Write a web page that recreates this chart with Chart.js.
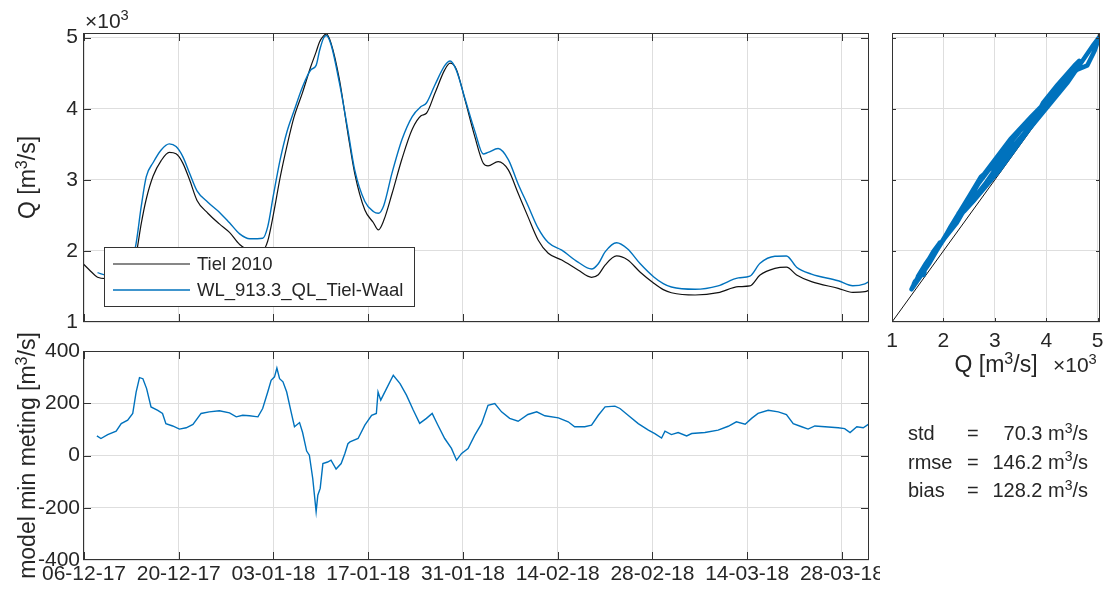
<!DOCTYPE html>
<html>
<head>
<meta charset="utf-8">
<script src="https://cdn.jsdelivr.net/npm/chart.js@4.4.1/dist/chart.umd.min.js"></script>
<style>
  html, body { margin: 0; padding: 0; background: #fff; }
  body { width: 1109px; height: 591px; position: relative; overflow: hidden; }
  canvas { position: absolute; }
</style>
</head>
<body>
<canvas id="qChart" width="880" height="335" style="left:0px;top:0px"></canvas>
<canvas id="diffChart" width="880" height="271" style="left:0px;top:320px"></canvas>
<canvas id="scatterChart" width="239" height="591" style="left:870px;top:0px"></canvas>
<script>
// tijdas: dagen sinds 06-12-2017
const xTickDays = [0, 14, 28, 42, 56, 70, 84, 98, 112];
const xTickLabels = ['06-12-17', '20-12-17', '03-01-18', '17-01-18', '31-01-18', '14-02-18', '28-02-18', '14-03-18', '28-03-18'];
const qTicks = [1000, 2000, 3000, 4000, 5000];
const diffTicks = [-400, -200, 0, 200, 400];
const seriesNames = ['Tiel 2010', 'WL_913.3_QL_Tiel-Waal'];

// afvoer meting en model [m3/s]
const qDays = [-0.2, 0.8, 2.0, 3.25, 4.75, 6.0, 7.0, 7.7, 8.45, 9.2,
  10.2, 11.4, 12.6, 13.6, 14.6, 15.6, 16.7, 18.3, 20.0, 21.5,
  23.0, 24.5, 26.4, 27.15, 28.0, 29.0, 30.0, 31.0, 32.3, 33.5,
  34.3, 34.8, 35.4, 35.8, 36.5, 37.75, 39.0, 40.0, 41.5, 42.75,
  43.5, 44.3, 45.5, 47.0, 48.5, 49.8, 50.6, 51.85, 53.3, 54.1,
  55.0, 56.3, 57.75, 59.0, 59.7, 61.2, 62.7, 64.15, 65.6, 67.1,
  68.6, 70.6, 73.0, 75.0, 76.0, 77.0, 78.7, 80.3, 82.2, 84.2,
  85.6, 86.8, 90.3, 93.7, 96.7, 98.4, 99.9, 102.1, 103.8, 105.3,
  107.5, 111.45, 113.6, 115.4, 116.1];
const qMeasured = [1826, 1732, 1630, 1610, 1615, 1640, 1730, 1950, 2380, 2730,
  3050, 3270, 3385, 3365, 3235, 3000, 2710, 2530, 2380, 2260,
  2090, 2013, 2013, 2140, 2520, 3040, 3480, 3870, 4230, 4590,
  4800, 4940, 5025, 5052, 4921, 4405, 3650, 3092, 2576, 2400,
  2295, 2430, 2800, 3300, 3710, 3900, 3936, 4217, 4546, 4640,
  4560, 4124, 3607, 3233, 3195, 3255, 3139, 2811, 2482, 2154,
  1967, 1872, 1732, 1629, 1665, 1800, 1929, 1875, 1700, 1545,
  1455, 1412, 1380, 1412, 1497, 1507, 1661, 1755, 1772, 1661,
  1567, 1474, 1418, 1426, 1450];
const qModel = [null, null, 1694, 1661, 1685, 1735, 1830, 2107, 2622, 3045,
  3240, 3420, 3505, 3467, 3326, 3092, 2845, 2685, 2545, 2395,
  2240, 2170, 2178, 2341, 2790, 3290, 3680, 3960, 4310, 4545,
  4610, 4815, 4995, 5030, 4903, 4359, 3695, 3139, 2695, 2555,
  2530, 2640, 3090, 3570, 3890, 4030, 4080, 4334, 4605, 4672,
  4545, 4140, 3685, 3364, 3385, 3440, 3285, 2942, 2639, 2320,
  2117, 2010, 1842, 1745, 1819, 1986, 2115, 2030, 1818, 1633,
  1540, 1492, 1460, 1509, 1620, 1645, 1826, 1925, 1929, 1771,
  1674, 1580, 1510, 1537, 1572];

// verschil model min meting [m3/s]
const diffDays = [1.9, 2.5, 3.5, 4.75, 5.5, 6.45, 7.2, 7.7, 8.2, 8.7,
  9.25, 9.9, 10.9, 11.6, 12.1, 13.1, 14.1, 15.1, 16.1, 17.3,
  18.5, 20.0, 21.5, 22.5, 23.45, 24.45, 25.7, 26.4, 27.15, 27.65,
  28.15, 28.5, 28.9, 29.4, 29.95, 30.6, 31.1, 31.85, 32.3, 32.9,
  33.3, 33.8, 34.3, 34.55, 34.9, 35.3, 36.0, 36.5, 37.25, 38.0,
  38.55, 39.0, 39.3, 40.5, 41.5, 42.5, 43.2, 43.45, 43.85, 44.7,
  45.7, 46.7, 47.65, 48.65, 49.6, 50.6, 51.45, 52.3, 53.3, 54.3,
  55.05, 55.8, 56.75, 57.75, 58.75, 59.7, 60.7, 61.7, 62.9, 64.15,
  65.6, 66.9, 68.1, 70.1, 71.55, 72.5, 74.0, 75.0, 76.0, 77.0,
  78.45, 79.2, 80.4, 81.9, 83.4, 84.35, 85.35, 85.85, 86.8, 87.8,
  89.05, 89.8, 91.75, 93.7, 95.2, 96.4, 97.7, 98.65, 99.6, 101.1,
  102.6, 103.8, 104.8, 106.05, 107.0, 108.0, 109.5, 111.45, 112.4, 113.2,
  114.2, 115.15, 115.9];
const diffValues = [75, 65, 80, 93, 122, 135, 161, 243, 298, 294,
  256, 186, 173, 161, 122, 113, 101, 106, 119, 161,
  167, 171, 163, 148, 154, 152, 148, 180, 243, 288,
  301, 335, 294, 282, 243, 167, 110, 126, 88, 17,
  1, -88, -215, -152, -126, -31, -25, -18, -52, -31,
  8, 45, 52, 65, 116, 154, 161, 243, 212, 256,
  307, 275, 231, 174, 123, 142, 161, 116, 65, 27,
  -18, 8, 27, 78, 122, 192, 199, 167, 142, 131,
  157, 167, 152, 144, 129, 110, 110, 116, 154, 186,
  189, 180, 154, 122, 97, 84, 67, 93, 80, 88,
  75, 84, 88, 97, 112, 129, 120, 142, 161, 173,
  167, 157, 122, 110, 101, 113, 110, 106, 103, 88,
  110, 106, 119];

const oneToOne = [1000, 5050];
const statNames = ['std', 'rmse', 'bias'];
const statValues = [70.3, 146.2, 128.2];

const FONT = '"Liberation Sans", Arial, Helvetica, sans-serif';
const INK = '#262626';
const BLUE = '#0072BD';
const GRID = '#dedede';
Chart.defaults.font.family = FONT;
Chart.defaults.color = INK;

// tekst met superscript-delen: [['Q [m'], ['3', true], ['/s]']]
function richWidth(ctx, parts, size) {
  let w = 0;
  parts.forEach(([t, sup]) => {
    ctx.font = (sup ? size * 0.7 : size) + 'px ' + FONT;
    w += ctx.measureText(t).width;
  });
  return w;
}
function drawRich(ctx, parts, x, y, size, align) {
  const w = richWidth(ctx, parts, size);
  let cx = align === 'center' ? x - w / 2 : align === 'right' ? x - w : x;
  ctx.textAlign = 'left';
  ctx.textBaseline = 'alphabetic';
  parts.forEach(([t, sup]) => {
    ctx.font = (sup ? size * 0.7 : size) + 'px ' + FONT;
    ctx.fillText(t, cx, sup ? y - size * 0.36 : y);
    cx += ctx.measureText(t).width;
  });
}
const m3s = (pre, post) => [[pre + 'm'], ['3', true], ['/s' + (post || '')]];

const freeText = {
  id: 'freeText',
  afterDraw(chart, args, opts) {
    const ctx = chart.ctx;
    (opts.items || []).forEach(it => {
      ctx.save();
      ctx.fillStyle = it.color || INK;
      ctx.translate(it.x, it.y);
      if (it.rotate) ctx.rotate(it.rotate);
      drawRich(ctx, it.parts, 0, 0, it.size, it.align || 'left');
      ctx.restore();
    });
  }
};

// datumlabels onder de tijdas, gecentreerd op de ticks van de x-schaal
const dateLabels = {
  id: 'dateLabels',
  afterDraw(chart, args, opts) {
    if (!opts.y) return;
    const s = chart.scales.x;
    const ctx = chart.ctx;
    ctx.save();
    ctx.font = '21px ' + FONT;
    ctx.fillStyle = INK;
    ctx.textAlign = 'center';
    ctx.textBaseline = 'middle';
    s.ticks.forEach((t, i) => ctx.fillText(xTickLabels[i], s.getPixelForValue(t.value), opts.y));
    ctx.restore();
  }
};

// kader rond de assen met tickstreepjes naar binnen
const axesBox = {
  id: 'axesBox',
  afterDatasetsDraw(chart, args, opts) {
    const {ctx, chartArea: a} = chart;
    const L = opts.tickLength || 8;
    ctx.save();
    ctx.strokeStyle = '#333';
    ctx.lineWidth = 1;
    ctx.beginPath();
    Object.values(chart.scales).forEach(s => {
      s.ticks.forEach(t => {
        const p = Math.round(s.getPixelForValue(t.value)) + 0.5;
        if (s.isHorizontal()) {
          if (p <= a.left + 1 || p >= a.right - 1) return;
          ctx.moveTo(p, a.bottom); ctx.lineTo(p, a.bottom - L);
          ctx.moveTo(p, a.top); ctx.lineTo(p, a.top + L);
        } else {
          if (p <= a.top + 1 || p >= a.bottom - 1) return;
          ctx.moveTo(a.left, p); ctx.lineTo(a.left + L, p);
          ctx.moveTo(a.right, p); ctx.lineTo(a.right - L, p);
        }
      });
    });
    ctx.stroke();
    ctx.strokeRect(a.left + 0.5, a.top + 0.5, a.right - a.left - 1, a.bottom - a.top - 1);
    ctx.restore();
  }
};

const boxLegend = {
  id: 'boxLegend',
  afterDatasetsDraw(chart, args, opts) {
    if (!opts.box) return;
    const ctx = chart.ctx;
    const b = opts.box;
    ctx.save();
    ctx.fillStyle = '#fff';
    ctx.fillRect(b.x, b.y, b.w, b.h);
    ctx.strokeStyle = '#333';
    ctx.lineWidth = 1;
    ctx.strokeRect(b.x + 0.5, b.y + 0.5, b.w, b.h);
    ctx.font = opts.size + 'px ' + FONT;
    ctx.textBaseline = 'middle';
    ctx.textAlign = 'left';
    chart.data.datasets.forEach((ds, i) => {
      const y = b.y + opts.rows[i];
      ctx.strokeStyle = ds.borderColor;
      ctx.lineWidth = ds.borderWidth;
      ctx.beginPath();
      ctx.moveTo(b.x + 9, y);
      ctx.lineTo(b.x + 86, y);
      ctx.stroke();
      ctx.fillStyle = INK;
      ctx.fillText(ds.label, b.x + 93, y + 1);
    });
    ctx.restore();
  }
};

function fixedWidth(w) {
  return s => { s.width = w; s.paddingTop = 0; s.paddingBottom = 0; };
}
function fixedHeight(h) {
  return s => { s.height = h; s.paddingLeft = 0; s.paddingRight = 0; };
}
const setTicks = values => s => { s.ticks = values.map(v => ({value: v})); };

function timeAxis(height) {
  return {
    type: 'linear',
    min: -0.15,
    max: 116,
    afterBuildTicks: setTicks(xTickDays),
    afterFit: fixedHeight(height),
    grid: {color: GRID, drawTicks: false},
    border: {display: false},
    ticks: {display: false}
  };
}

const pts = (xs, ys) => xs.map((x, i) => ({x: x, y: ys[i]}));

// afvoer tijdreeks
new Chart(document.getElementById('qChart'), {
  type: 'line',
  data: {
    datasets: [{
      label: seriesNames[0],
      data: pts(qDays, qMeasured),
      borderColor: '#111',
      borderWidth: 1.2,
      cubicInterpolationMode: 'monotone',
      order: 2
    }, {
      label: seriesNames[1],
      data: pts(qDays, qModel),
      borderColor: BLUE,
      borderWidth: 1.4,
      cubicInterpolationMode: 'monotone',
      order: 1
    }]
  },
  options: {
    responsive: false,
    animation: false,
    events: [],
    layout: {padding: {left: 0, top: 33, right: 11, bottom: 0}},
    elements: {point: {radius: 0}},
    plugins: {
      legend: {display: false},
      tooltip: {enabled: false},
      axesBox: {tickLength: 8},
      boxLegend: {box: {x: 104, y: 247, w: 310, h: 59}, rows: [17, 43], size: 18.5},
      freeText: {items: [
        {parts: [['×10'], ['3', true]], x: 85, y: 28, size: 21},
        {parts: m3s('Q [', ']'), x: 35, y: 177.5, size: 23, align: 'center', rotate: -Math.PI / 2}
      ]}
    },
    scales: {
      x: timeAxis(13),
      y: {
        min: 1000,
        max: 5065,
        afterBuildTicks: setTicks(qTicks),
        afterFit: fixedWidth(83),
        grid: {color: GRID, drawTicks: false},
        border: {display: false},
        ticks: {padding: 5, font: {size: 21}, callback: v => String(v / 1000)}
      }
    }
  },
  plugins: [axesBox, boxLegend, freeText]
});

// verschil model - meting
new Chart(document.getElementById('diffChart'), {
  type: 'line',
  data: {
    datasets: [{
      label: 'model min meting',
      data: pts(diffDays, diffValues),
      borderColor: BLUE,
      borderWidth: 1.4
    }]
  },
  options: {
    responsive: false,
    animation: false,
    events: [],
    layout: {padding: {left: 0, top: 31, right: 11, bottom: 0}},
    elements: {point: {radius: 0}, line: {tension: 0}},
    plugins: {
      legend: {display: false},
      tooltip: {enabled: false},
      axesBox: {tickLength: 8},
      dateLabels: {y: 254},
      freeText: {items: [
        {parts: m3s('model min meting [', ']'), x: 35, y: 135.5, size: 23, align: 'center', rotate: -Math.PI / 2}
      ]}
    },
    scales: {
      x: timeAxis(31),
      y: {
        min: -400,
        max: 400,
        afterBuildTicks: setTicks(diffTicks),
        afterFit: fixedWidth(83),
        grid: {color: GRID, drawTicks: false},
        border: {display: false},
        ticks: {padding: 3, font: {size: 21}, callback: v => String(v)}
      }
    }
  },
  plugins: [axesBox, dateLabels, freeText]
});

// model tegen meting
const pairs = qMeasured.map((m, i) => ({x: m, y: qModel[i]})).filter(p => p.y !== null);
const statItems = [];
statNames.forEach((n, i) => {
  const y = 440 + i * 28.5;
  statItems.push({parts: [[n]], x: 38, y: y, size: 20});
  statItems.push({parts: [['=']], x: 97, y: y, size: 20});
  statItems.push({parts: m3s(statValues[i].toFixed(1) + ' '), x: 218, y: y, size: 20, align: 'right'});
});

new Chart(document.getElementById('scatterChart'), {
  type: 'line',
  data: {
    datasets: [{
      label: 'model vs meting',
      data: pairs,
      borderColor: BLUE,
      borderWidth: 4.5,
      borderJoinStyle: 'round',
      borderCapStyle: 'round',
      order: 1
    }, {
      label: '1:1',
      data: oneToOne.map(v => ({x: v, y: v})),
      borderColor: '#111',
      borderWidth: 1,
      order: 2
    }]
  },
  options: {
    responsive: false,
    animation: false,
    events: [],
    layout: {padding: {left: 0, top: 33, right: 9, bottom: 0}},
    elements: {point: {radius: 0}, line: {tension: 0}},
    plugins: {
      legend: {display: false},
      tooltip: {enabled: false},
      axesBox: {tickLength: 4},
      freeText: {items: [
        {parts: m3s('Q [', ']'), x: 126, y: 372, size: 23, align: 'center'},
        {parts: [['×10'], ['3', true]], x: 183, y: 372, size: 21}
      ].concat(statItems)}
    },
    scales: {
      x: {
        type: 'linear',
        min: 1000,
        max: 5045,
        afterBuildTicks: setTicks(qTicks),
        afterFit: fixedHeight(269),
        grid: {color: GRID, drawTicks: false},
        border: {display: false},
        ticks: {padding: 7, font: {size: 21}, maxRotation: 0, autoSkip: false, callback: v => String(v / 1000)}
      },
      y: {
        min: 1000,
        max: 5065,
        afterBuildTicks: setTicks(qTicks),
        afterFit: fixedWidth(22),
        grid: {color: GRID, drawTicks: false},
        border: {display: false},
        ticks: {display: false}
      }
    }
  },
  plugins: [axesBox, freeText]
});
</script>
</body>
</html>
